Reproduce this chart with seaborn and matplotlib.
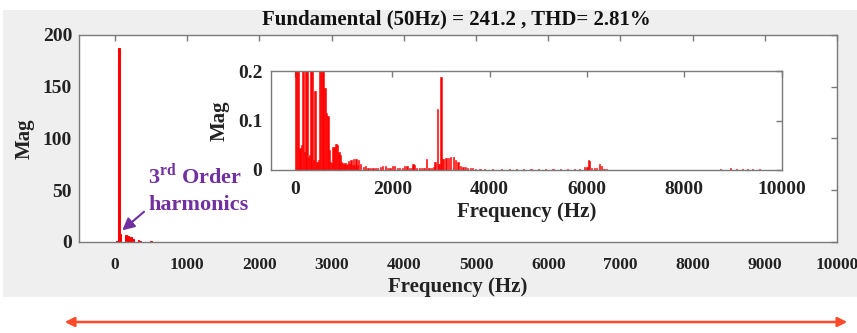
import numpy as np
import pandas as pd
import matplotlib.pyplot as plt
import matplotlib.patches as mpatches
import seaborn as sns

# -- spectrum (Hz, magnitude) --
freq_low = [0, 25, 50, 75, 100, 125, 150, 175, 200, 225, 250, 275, 300, 325, 350,
            375, 400, 425, 450, 475, 500, 525, 550, 575, 600, 625, 650, 675, 700,
            725, 750, 775, 800, 825, 850, 875, 900, 925, 950, 975, 1000, 1025,
            1050, 1075, 1100, 1125, 1150, 1175, 1200, 1225, 1250, 1275, 1300]
mag_low = [0.25, 0.6, 187.0, 7.5, 0.045, 0.05, 7.0, 5.5, 0.037, 4.5, 3.0, 0.027,
           0.03, 2.0, 1.2, 0.02, 0.16, 0.16, 0.017, 0.02, 0.6, 0.45, 0.3, 0.25,
           0.165, 0.165, 0.115, 0.11, 0.04, 0.017, 0.015, 0.047, 0.047, 0.053,
           0.053, 0.05, 0.037, 0.03, 0.017, 0.015, 0.013, 0.015, 0.01, 0.012,
           0.018, 0.012, 0.02, 0.01, 0.022, 0.01, 0.023, 0.01, 0.02]

freq_high = [1350, 1400, 1450, 1500, 1550, 1600, 1650, 1700, 1750, 1800, 1850,
             1900, 1950, 2000, 2050, 2100, 2150, 2200, 2250, 2300, 2350, 2400,
             2425, 2450, 2500, 2550, 2600, 2650, 2700, 2750, 2800, 2850, 2875,
             2925, 2950, 2975, 3000, 3025, 3050, 3100, 3150, 3200, 3250, 3300,
             3350, 3400, 3450, 3500, 3550, 3600, 3650, 3700, 3800, 3900, 4050,
             4250, 4400, 4550, 4700, 4850, 5000, 5150, 5300, 5450, 5600, 5750,
             5850, 5950, 6000, 6025, 6050, 6100, 6150, 6200, 6250, 6300, 6350,
             6400, 8750, 8950, 9075, 9200, 9300, 9400, 9550]
mag_high = [0.012, 0.006, 0.008, 0.005, 0.005, 0.004, 0.005, 0.004, 0.006, 0.009,
            0.009, 0.005, 0.004, 0.009, 0.008, 0.004, 0.005, 0.004, 0.009, 0.008,
            0.004, 0.005, 0.013, 0.01, 0.004, 0.004, 0.004, 0.005, 0.023, 0.005,
            0.004, 0.006, 0.017, 0.124, 0.013, 0.012, 0.188, 0.022, 0.023, 0.024,
            0.025, 0.027, 0.027, 0.02, 0.017, 0.008, 0.006, 0.006, 0.005, 0.005,
            0.004, 0.003, 0.002, 0.002, 0.002, 0.002, 0.002, 0.002, 0.002, 0.002,
            0.002, 0.002, 0.002, 0.002, 0.002, 0.002, 0.002, 0.006, 0.006, 0.02,
            0.018, 0.005, 0.005, 0.004, 0.012, 0.009, 0.003, 0.002, 0.002, 0.005,
            0.003, 0.002, 0.002, 0.002, 0.002]

main_xticks = [0, 1000, 2000, 3000, 4000, 5000, 6000, 7000, 8000, 9000, 10000]
main_yticks = [0, 50, 100, 150, 200]
inset_xticks = [0, 2000, 4000, 6000, 8000, 10000]
inset_yticks = [0, 0.1, 0.2]
title_text = 'Fundamental (50Hz) = 241.2 , THD= 2.81%'

df = pd.DataFrame({'Frequency': freq_low + freq_high, 'Mag': mag_low + mag_high})

sns.set_style('white')
plt.rcParams['font.family'] = ['Liberation Serif', 'DejaVu Serif']
plt.rcParams['font.weight'] = 'bold'
plt.rcParams['mathtext.fontset'] = 'custom'
plt.rcParams['mathtext.rm'] = 'Liberation Serif:bold'
plt.rcParams['mathtext.bf'] = 'Liberation Serif:bold'

fig = plt.figure(figsize=(8.57, 3.33), dpi=100, facecolor='white')
# grey panel behind the plot
fig.patches.append(mpatches.Rectangle((0.004, 0.108), 0.996, 0.862, transform=fig.transFigure,
                                      facecolor='#efefef', edgecolor='none', zorder=-10))

frame = '#7a7a7a'


def style_axes(ax, xticks, yticks, fs):
    ax.set_facecolor('white')
    for s in ax.spines.values():
        s.set_color(frame)
        s.set_linewidth(1.0)
        s.set_visible(True)
    ax.set_xticks(xticks)
    ax.set_yticks(yticks)
    ax.tick_params(direction='in', length=4, width=1, color=frame, top=True, right=True,
                   labelsize=fs, labelcolor='#222222')
    ax.grid(False)


# -- main axes --
ax = fig.add_axes([0.0922, 0.2733, 0.8845, 0.6216])
sns.barplot(data=df, x='Frequency', y='Mag', native_scale=True, ax=ax, color='red',
            saturation=1, width=1.0, errorbar=None, edgecolor='red', linewidth=0.7)
ax.set_xlim(-500, 10000)
ax.set_ylim(0, 200)
style_axes(ax, main_xticks, main_yticks, 14)
ax.tick_params(axis='x', pad=11, labelsize=12.5)
ax.tick_params(axis='y', pad=5)
ax.set_xticklabels([str(t) for t in main_xticks])
ax.set_xlabel('Frequency (Hz)', fontsize=15, fontweight='bold', color='#222222', labelpad=3)
ax.set_ylabel('Mag', fontsize=15, fontweight='bold', color='#222222', labelpad=6)

purple = '#7030a0'
ax.annotate('', xy=(70, 9.5), xytext=(430, 31),
            arrowprops=dict(arrowstyle='-|>', color=purple, lw=1.5, mutation_scale=18))
ax.text(450, 64, r'3$^{\mathrm{rd}}$ Order', color=purple, fontsize=16, fontweight='bold',
        ha='left', va='center')
ax.text(460, 36, 'harmonics', color=purple, fontsize=16, fontweight='bold',
        ha='left', va='center')

fig.text(0.533, 0.942, title_text, ha='center', va='center', fontsize=15,
         fontweight='bold', color='#111111')

# -- inset axes --
ins = fig.add_axes([0.316, 0.4895, 0.596, 0.297])
sns.barplot(data=df, x='Frequency', y='Mag', native_scale=True, ax=ins, color='red',
            saturation=1, width=1.0, errorbar=None, edgecolor='red', linewidth=0.4)
ins.set_xlim(-500, 10000)
ins.set_ylim(0, 0.2)
style_axes(ins, inset_xticks, inset_yticks, 14)
ins.tick_params(axis='x', pad=8)
ins.tick_params(axis='y', pad=6)
ins.set_xticklabels([str(t) for t in inset_xticks])
ins.set_yticklabels(['0', '0.1', '0.2'])
ins.set_xlabel('Frequency (Hz)', fontsize=15, fontweight='bold', color='#222222', labelpad=3)
ins.set_ylabel('Mag', fontsize=15, fontweight='bold', color='#222222', labelpad=6)

# -- double-headed arrow underneath --
fig.patches.append(mpatches.FancyArrowPatch((62 / 857, 1 - 322 / 333), (850 / 857, 1 - 322 / 333),
                                            transform=fig.transFigure, arrowstyle='<|-|>',
                                            mutation_scale=14, color='#ff4a2a', lw=1.8))

plt.savefig('out.png', dpi=100, facecolor=fig.get_facecolor())
